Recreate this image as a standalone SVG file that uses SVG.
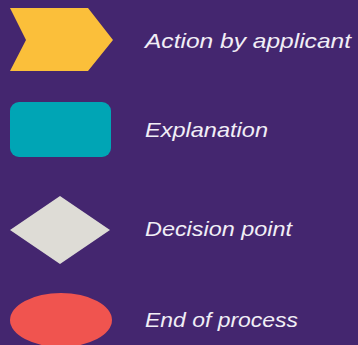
<svg xmlns="http://www.w3.org/2000/svg" width="358" height="345" viewBox="0 0 358 345">
<style>
.lbl{font-family:"Liberation Sans","Noto Sans",sans-serif;font-style:italic;font-size:21px;fill:#f1eef6}
</style>
<rect width="358" height="345" fill="#44266f"/>
<g id="action">
<polygon points="10,8 88,8 113,40 88,71 10,71 26,40" fill="#fbbf3a"/>
<text class="lbl" x="145" y="48" textLength="206" lengthAdjust="spacingAndGlyphs">Action by applicant</text>
</g>
<g id="explanation">
<rect x="10" y="102" width="101" height="55" rx="9" fill="#00a5b5"/>
<text class="lbl" x="145" y="137" textLength="123" lengthAdjust="spacingAndGlyphs">Explanation</text>
</g>
<g id="decision">
<polygon points="10,230 60,196 110,230 60,264" fill="#dedcd6"/>
<text class="lbl" x="145" y="236" textLength="147" lengthAdjust="spacingAndGlyphs">Decision point</text>
</g>
<g id="end">
<ellipse cx="61" cy="320" rx="51" ry="27" fill="#f0544f"/>
<text class="lbl" x="145" y="327" textLength="153" lengthAdjust="spacingAndGlyphs">End of process</text>
</g>
<g id="connectors"/>
</svg>
